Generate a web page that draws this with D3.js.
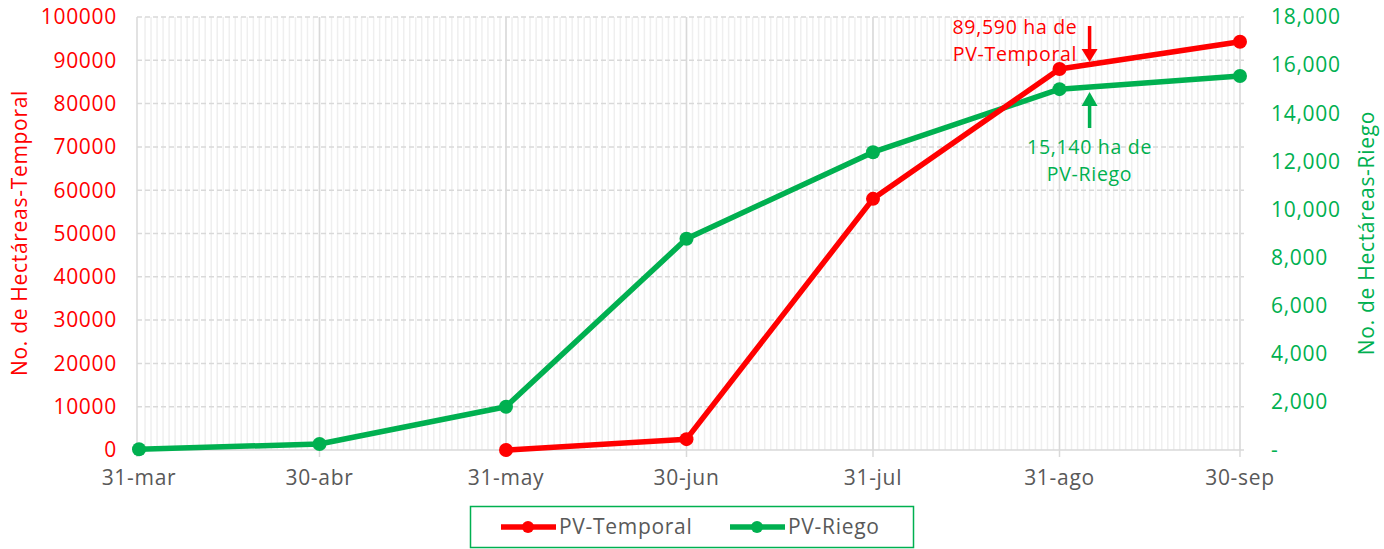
<!DOCTYPE html>
<html>
<head>
<meta charset="utf-8">
<script src="https://cdn.jsdelivr.net/npm/d3@7"></script>
<style>
  body { margin: 0; background: #fff; }
  svg { display: block; font-family: "Open Sans", sans-serif; letter-spacing: 0.7px; }
</style>
</head>
<body>
<svg id="chart"></svg>
<script>
// data
let dates = ["2023-03-31", "2023-04-30", "2023-05-31", "2023-06-30", "2023-07-31", "2023-08-31", "2023-09-30"];
let dateLabels = ["31-mar", "30-abr", "31-may", "30-jun", "31-jul", "31-ago", "30-sep"];
let temporal = [null, null, 0, 2500, 58000, 88000, 94300];
let riego = [30, 250, 1800, 8780, 12380, 15000, 15550];
let leftTicks = [0, 10000, 20000, 30000, 40000, 50000, 60000, 70000, 80000, 90000, 100000];
let rightTicks = [0, 2000, 4000, 6000, 8000, 10000, 12000, 14000, 16000, 18000];
let noteDate = "2023-09-05";

let width = 1384, height = 549;
let red = "#ff0000", green = "#00b050";
let fs = 21;
let parse = d3.timeParse("%Y-%m-%d");

let svg = d3.select("#chart").attr("width", width).attr("height", height);

let x = d3.scaleTime()
    .domain([d3.timeHour.offset(parse(dates[0]), -8), d3.timeHour.offset(parse(dates[6]), 16)])
    .range([137, 1244]);
let yL = d3.scaleLinear().domain([0, 100000]).range([450, 17]);
let yR = d3.scaleLinear().domain([0, 18000]).range([450, 17]);

// daily minor grid
let days = d3.timeDay.range(d3.timeDay.offset(parse(dates[0]), 1), d3.timeDay.offset(parse(dates[6]), 1));
svg.append("g").selectAll("line").data(days).enter().append("line")
    .attr("x1", d => x(d)).attr("x2", d => x(d))
    .attr("y1", yL(100000)).attr("y2", yL(0))
    .attr("stroke", "#efefef").attr("stroke-width", 1.5);

// horizontal dashed grid
svg.append("g").selectAll("line").data(leftTicks.slice(1)).enter().append("line")
    .attr("x1", 137).attr("x2", 1244)
    .attr("y1", d => yL(d)).attr("y2", d => yL(d))
    .attr("stroke", "#d9d9d9").attr("stroke-width", 1.5)
    .attr("stroke-dasharray", "5,3");

// major month grid
svg.append("g").selectAll("line").data(dates.slice(1)).enter().append("line")
    .attr("x1", d => x(parse(d))).attr("x2", d => x(parse(d)))
    .attr("y1", yL(100000)).attr("y2", yL(0) + 7)
    .attr("stroke", "#d9d9d9").attr("stroke-width", 1.5);

// axis lines
svg.append("line").attr("x1", 137).attr("x2", 137).attr("y1", 17).attr("y2", 457)
    .attr("stroke", "#d9d9d9").attr("stroke-width", 1.5);
svg.append("line").attr("x1", 137).attr("x2", 1244).attr("y1", 450).attr("y2", 450)
    .attr("stroke", "#d9d9d9").attr("stroke-width", 1.5);

// left axis labels
svg.append("g").selectAll("text").data(leftTicks).enter().append("text")
    .attr("x", 117).attr("y", d => yL(d)).attr("dy", "0.35em")
    .attr("text-anchor", "end").attr("fill", red).attr("font-size", fs)
    .text(d => d);

// right axis labels
let fmt = d3.format(",");
svg.append("g").selectAll("text").data(rightTicks).enter().append("text")
    .attr("x", 1271).attr("y", d => yR(d)).attr("dy", "0.35em")
    .attr("fill", green).attr("font-size", fs)
    .text(d => d == 0 ? "-" : fmt(d));

// x labels
svg.append("g").selectAll("text").data(dates).enter().append("text")
    .attr("x", d => x(parse(d))).attr("y", 478).attr("dy", "0.35em")
    .attr("text-anchor", "middle").attr("fill", "#595959").attr("font-size", fs)
    .text((d, i) => dateLabels[i]);

// axis titles
svg.append("text").attr("transform", "translate(20,233) rotate(-90)")
    .attr("text-anchor", "middle").attr("dy", "0.35em")
    .attr("fill", red).attr("font-size", fs)
    .text("No. de Hectáreas-Temporal");
svg.append("text").attr("transform", "translate(1367,233) rotate(-90)")
    .attr("text-anchor", "middle").attr("dy", "0.35em")
    .attr("fill", green).attr("font-size", fs)
    .text("No. de Hectáreas-Riego");

// series
let tData = dates.map((d, i) => ({ date: parse(d), v: temporal[i] })).filter(d => d.v != null);
let rData = dates.map((d, i) => ({ date: parse(d), v: riego[i] }));

let lineL = d3.line().x(d => x(d.date)).y(d => yL(d.v));
let lineR = d3.line().x(d => x(d.date)).y(d => yR(d.v));

svg.append("path").datum(rData).attr("d", lineR)
    .attr("fill", "none").attr("stroke", green).attr("stroke-width", 5.5).attr("stroke-linejoin", "round");
svg.append("g").selectAll("circle").data(rData).enter().append("circle")
    .attr("cx", d => x(d.date)).attr("cy", d => yR(d.v)).attr("r", 7).attr("fill", green);

svg.append("path").datum(tData).attr("d", lineL)
    .attr("fill", "none").attr("stroke", red).attr("stroke-width", 5.5).attr("stroke-linejoin", "round");
svg.append("g").selectAll("circle").data(tData).enter().append("circle")
    .attr("cx", d => x(d.date)).attr("cy", d => yL(d.v)).attr("r", 7).attr("fill", red);

// annotations (two-line labels)
let afs = 19.5;
let nx = x(parse(noteDate));
svg.append("line").attr("x1", nx).attr("x2", nx).attr("y1", 26).attr("y2", 50)
    .attr("stroke", red).attr("stroke-width", 3.5);
svg.append("path").attr("d", `M${nx - 8},49 L${nx + 8},49 L${nx},62 Z`).attr("fill", red);
svg.append("text").attr("x", 1015).attr("y", 27).attr("dy", "0.35em").attr("text-anchor", "middle")
    .attr("fill", red).attr("font-size", afs).text("89,590 ha de");
svg.append("text").attr("x", 1015).attr("y", 54).attr("dy", "0.35em").attr("text-anchor", "middle")
    .attr("fill", red).attr("font-size", afs).text("PV-Temporal");

svg.append("line").attr("x1", nx).attr("x2", nx).attr("y1", 104).attr("y2", 128)
    .attr("stroke", green).attr("stroke-width", 3.5);
svg.append("path").attr("d", `M${nx - 8},106 L${nx + 8},106 L${nx},92 Z`).attr("fill", green);
svg.append("text").attr("x", nx).attr("y", 147).attr("dy", "0.35em").attr("text-anchor", "middle")
    .attr("fill", green).attr("font-size", afs).text("15,140 ha de");
svg.append("text").attr("x", nx).attr("y", 174).attr("dy", "0.35em").attr("text-anchor", "middle")
    .attr("fill", green).attr("font-size", afs).text("PV-Riego");

// legend
let legend = svg.append("g");
legend.append("rect").attr("x", 470.5).attr("y", 506.5).attr("width", 443).attr("height", 41)
    .attr("fill", "#fff").attr("stroke", green).attr("stroke-width", 1.5);
let items = [{ name: "PV-Temporal", color: red, x: 501 }, { name: "PV-Riego", color: green, x: 730 }];
items.forEach(it => {
    legend.append("line").attr("x1", it.x).attr("x2", it.x + 55).attr("y1", 527).attr("y2", 527)
        .attr("stroke", it.color).attr("stroke-width", 5.5);
    legend.append("circle").attr("cx", it.x + 27).attr("cy", 527).attr("r", 6).attr("fill", it.color);
    legend.append("text").attr("x", it.x + 58).attr("y", 527).attr("dy", "0.35em")
        .attr("fill", "#595959").attr("font-size", fs).text(it.name);
});
</script>
</body>
</html>
